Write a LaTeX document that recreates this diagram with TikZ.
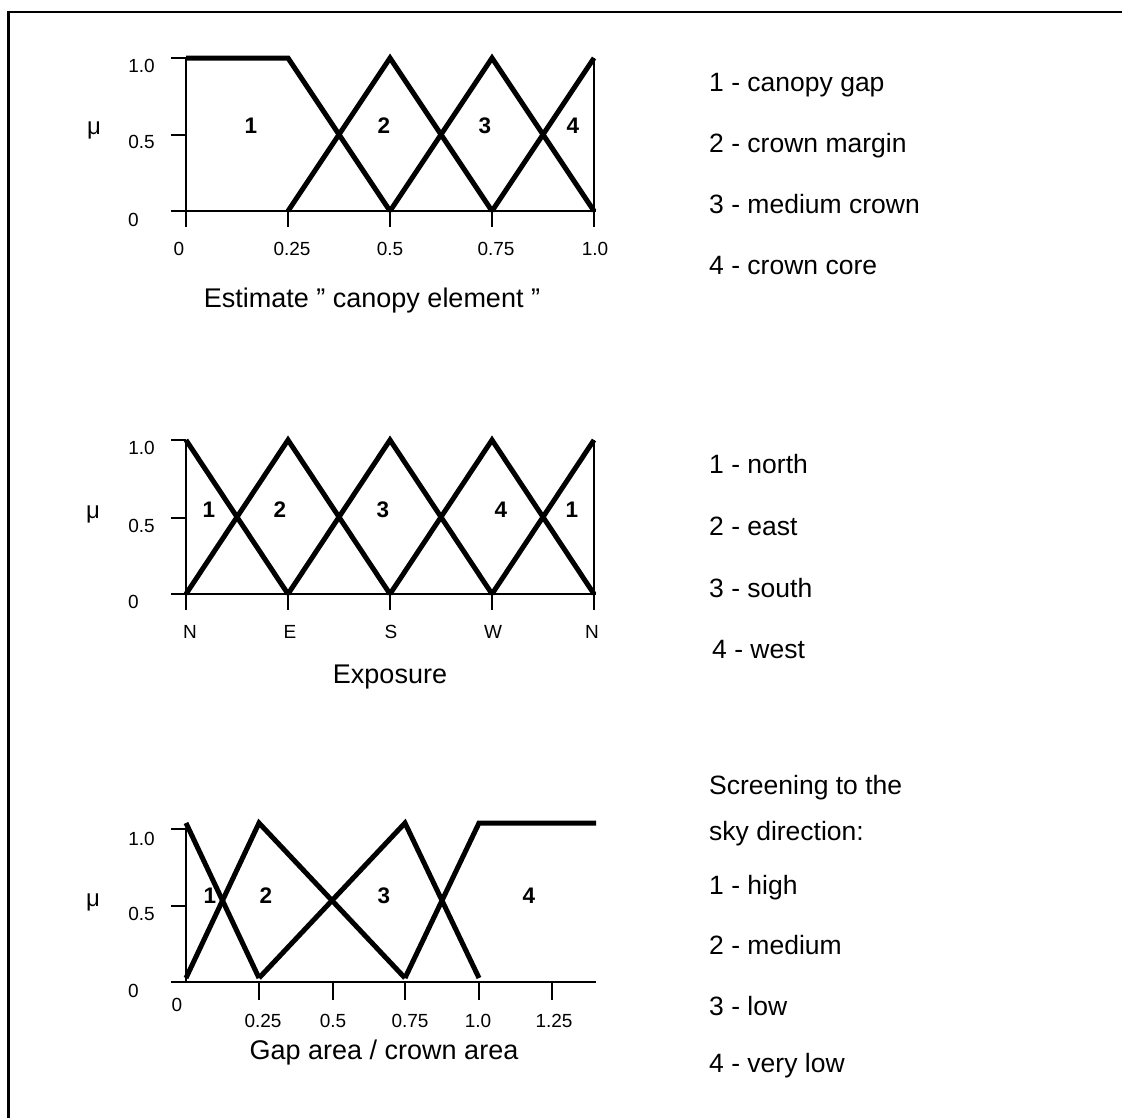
\documentclass[tikz,border=0pt]{standalone}
\usepackage{fontspec}
\setmainfont{Liberation Sans}
\begin{document}
\begin{tikzpicture}[x=1pt,y=-1pt,
  thinln/.style={line width=2.3pt},
  thickln/.style={line width=5pt},
  lg/.style={anchor=base west,inner sep=0pt,font=\fontsize{26.5}{32}\selectfont},
  tk/.style={anchor=base,inner sep=0pt,font=\fontsize{19}{23}\selectfont},
  yl/.style={anchor=base east,inner sep=0pt,font=\fontsize{19}{23}\selectfont},
  rg/.style={anchor=base,inner sep=0pt,font=\fontsize{22.5}{26}\selectfont\bfseries},
  ttl/.style={anchor=base,inner sep=0pt,font=\fontsize{27}{32}\selectfont},
  mulab/.style={anchor=base,inner sep=0pt,font=\fontsize{24}{28}\selectfont}]
\useasboundingbox (0,0) rectangle (1122,1117);
% frame
\draw[line width=2.5pt] (8.5,1120) -- (8.5,12) -- (1125,12);

% ---------------- chart 1 ----------------
\draw[thinln] (186,58) -- (186,227);
\draw[thinln] (171,211) -- (596,211);
\foreach \y in {58,135} \draw[thinln] (171,\y) -- (186,\y);
\foreach \x in {288,390,492,594} \draw[thinln] (\x,211) -- (\x,227);
\draw[thinln] (594,58) -- (594,211);
\draw[thickln] (186,58) -- (288,58) -- (390,211);
\draw[thickln] (288,211) -- (390,58) -- (492,211);
\draw[thickln] (390,211) -- (492,58) -- (594,211);
\draw[thickln] (492,211) -- (594,58);
\node[yl] (a1y10) at (155,72) {1.0};
\node[yl] (a1y05) at (155,148) {0.5};
\node[yl] (a1y00) at (139,226) {0};
\node[mulab] (a1mu) at (94,134) {μ};
\node[tk] (a1x0) at (179,255) {0};
\node[tk] (a1x1) at (292,255) {0.25};
\node[tk] (a1x2) at (390,255) {0.5};
\node[tk] (a1x3) at (496,255) {0.75};
\node[tk] (a1x4) at (595,255) {1.0};
\node[ttl] (a1t) at (372,307) {Estimate " canopy element "};
\node[rg] (a1r1) at (251,133) {1};
\node[rg] (a1r2) at (384,133) {2};
\node[rg] (a1r3) at (485,133) {3};
\node[rg] (a1r4) at (573,133) {4};
\node[lg] (a1l1) at (709,91) {1 - canopy gap};
\node[lg] (a1l2) at (709,152) {2 - crown margin};
\node[lg] (a1l3) at (709,213) {3 - medium crown};
\node[lg] (a1l4) at (709,274) {4 - crown core};

% ---------------- chart 2 ----------------
\draw[thinln] (186,440) -- (186,610);
\draw[thinln] (171,594) -- (596,594);
\foreach \y in {440,518} \draw[thinln] (171,\y) -- (186,\y);
\foreach \x in {288,390,492,594} \draw[thinln] (\x,594) -- (\x,610);
\draw[thinln] (594,440) -- (594,594);
\draw[thickln] (186,440) -- (288,594);
\draw[thickln] (186,594) -- (288,440) -- (390,594);
\draw[thickln] (288,594) -- (390,440) -- (492,594);
\draw[thickln] (390,594) -- (492,440) -- (594,594);
\draw[thickln] (492,594) -- (594,440);
\node[yl] (b1y10) at (155,454) {1.0};
\node[yl] (b1y05) at (155,532) {0.5};
\node[yl] (b1y00) at (139,608) {0};
\node[mulab] (b1mu) at (93,518) {μ};
\node[tk] (b1x0) at (190,638) {N};
\node[tk] (b1x1) at (290,638) {E};
\node[tk] (b1x2) at (391,638) {S};
\node[tk] (b1x3) at (493,638) {W};
\node[tk] (b1x4) at (592,638) {N};
\node[ttl] (b1t) at (390,683) {Exposure};
\node[rg] (b1r1) at (209,517) {1};
\node[rg] (b1r2) at (280,517) {2};
\node[rg] (b1r3) at (383,517) {3};
\node[rg] (b1r4) at (501,517) {4};
\node[rg] (b1r5) at (572,517) {1};
\node[lg] (b1l1) at (709,473) {1 - north};
\node[lg] (b1l2) at (709,535) {2 - east};
\node[lg] (b1l3) at (709,597) {3 - south};
\node[lg] (b1l4) at (712,658) {4 - west};

% ---------------- chart 3 ----------------
\draw[thinln] (186,829) -- (186,982);
\draw[thinln] (171,982) -- (596,982);
\foreach \y in {829,906} \draw[thinln] (171,\y) -- (186,\y);
\foreach \x in {259,333,405,479,552} \draw[thinln] (\x,982) -- (\x,1000);
\draw[thickln] (186,823) -- (259,978);
\draw[thickln] (186,978) -- (259,823) -- (405,978);
\draw[thickln] (259,978) -- (405,823) -- (479,978);
\draw[thickln] (405,978) -- (479,823) -- (596,823);
\node[yl] (c1y10) at (155,845) {1.0};
\node[yl] (c1y05) at (155,920) {0.5};
\node[yl] (c1y00) at (139,997) {0};
\node[mulab] (c1mu) at (93,906) {μ};
\node[tk] (c1x0) at (177,1011) {0};
\node[tk] (c1x1) at (263,1027) {0.25};
\node[tk] (c1x2) at (333,1027) {0.5};
\node[tk] (c1x3) at (410,1027) {0.75};
\node[tk] (c1x4) at (478,1027) {1.0};
\node[tk] (c1x5) at (554,1027) {1.25};
\node[ttl] (c1t) at (384,1059) {Gap area / crown area};
\node[rg] (c1r1) at (210,903) {1};
\node[rg] (c1r2) at (266,903) {2};
\node[rg] (c1r3) at (384,903) {3};
\node[rg] (c1r4) at (529,903) {4};
\node[lg] (c1h1) at (709,794) {Screening to the};
\node[lg] (c1h2) at (709,840) {sky direction:};
\node[lg] (c1l1) at (709,894) {1 - high};
\node[lg] (c1l2) at (709,954) {2 - medium};
\node[lg] (c1l3) at (709,1015) {3 - low};
\node[lg] (c1l4) at (709,1072) {4 - very low};
\end{tikzpicture}
\end{document}
